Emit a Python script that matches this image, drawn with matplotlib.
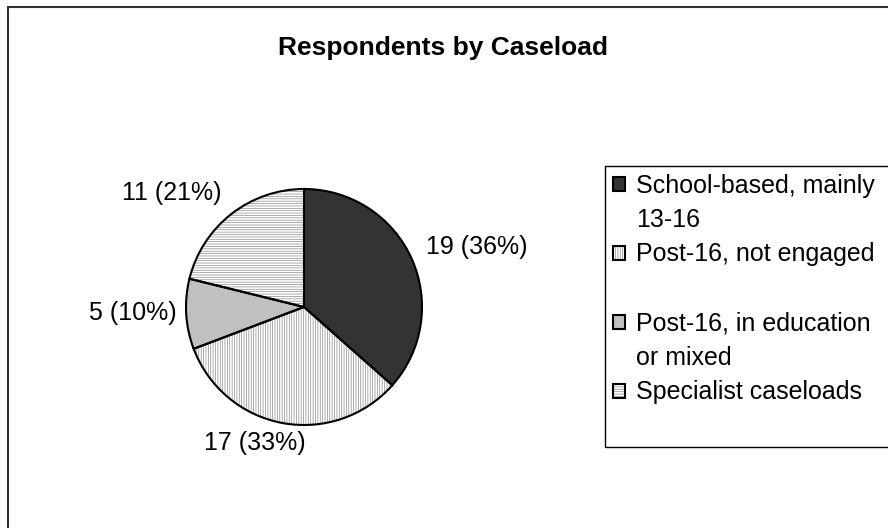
import matplotlib
matplotlib.use("Agg")
import matplotlib.pyplot as plt
from matplotlib.patches import Rectangle
from matplotlib.lines import Line2D
from matplotlib.legend_handler import HandlerTuple

plt.rcParams["font.family"] = ["Liberation Sans", "DejaVu Sans"]
plt.rcParams["hatch.linewidth"] = 0.5

# caseload groups, number of respondents and their printed share
categories = ["School-based, mainly 13-16", "Post-16, not engaged",
              "Post-16, in education or mixed", "Specialist caseloads"]
counts = [19, 17, 5, 11]
percents = [36, 33, 10, 21]
legend_lines = [["School-based, mainly", "13-16"],
                ["Post-16, not engaged", " "],
                ["Post-16, in education", "or mixed"],
                ["Specialist caseloads", " "]]

face_colors = ["#333333", "white", "#c0c0c0", "white"]
hatches = [None, "|||||||", None, "-------"]
# where each value label sits, in pie-radius units from the centre
label_xy = [(1.46, 0.51), (-0.42, -1.15), (-1.45, -0.05), (-1.12, 0.97)]

fig = plt.figure(figsize=(8.88, 5.28), dpi=100)
W, H = 888, 528

# outer chart border
fig.add_artist(Rectangle((7.5 / W, -0.1), 1.2, 1 - 7.5 / H + 0.1,
                         transform=fig.transFigure, facecolor="none",
                         edgecolor="#333333", linewidth=1.5))

fig.text(443 / W, 1 - 48 / H, "Respondents by Caseload", ha="center",
         va="center", fontsize=19, fontweight="bold")

cx, cy, r = 304, 307, 118
ax = fig.add_axes([(cx - r) / W, (H - cy - r) / H, 2 * r / W, 2 * r / H])

# fill pass: hatch lines take the edge colour, so draw them without outline
fills, _ = ax.pie(counts, startangle=90, counterclock=False, radius=1,
                  colors=face_colors,
                  wedgeprops=dict(edgecolor="#8c8c8c", linewidth=0))
for w, h in zip(fills, hatches):
    if h:
        w.set_hatch(h)

# outline pass
outlines, _ = ax.pie(counts, startangle=90, counterclock=False, radius=1,
                     colors=["none"] * len(counts),
                     wedgeprops=dict(edgecolor="black", linewidth=1.5))

for n, p, (x, y) in zip(counts, percents, label_xy):
    ax.text(x, y, f"{n} ({p}%)", ha="center", va="center", fontsize=18)

ax.set_xlim(-1, 1)
ax.set_ylim(-1, 1)
ax.set_aspect("equal")
ax.axis("off")

handles, labels = [], []
blank = Line2D([], [], linestyle="none")
for f, o, lines in zip(fills, outlines, legend_lines):
    handles.append((f, o))
    labels.append(lines[0])
    handles.append(blank)
    labels.append(lines[1])

leg = fig.legend(handles, labels, loc="upper left", mode="expand",
                 bbox_to_anchor=(605 / W, 0, 310 / W, 1 - 166 / H),
                 handler_map={tuple: HandlerTuple(ndivide=1, pad=0)},
                 fontsize=18, frameon=True, fancybox=False, shadow=False,
                 framealpha=1, edgecolor="black", borderpad=0.3,
                 labelspacing=0.42, handlelength=0.5, handleheight=0.5,
                 handletextpad=0.45, borderaxespad=0)
leg.get_frame().set_linewidth(1.0)

fig.savefig("out.png", dpi=100)
